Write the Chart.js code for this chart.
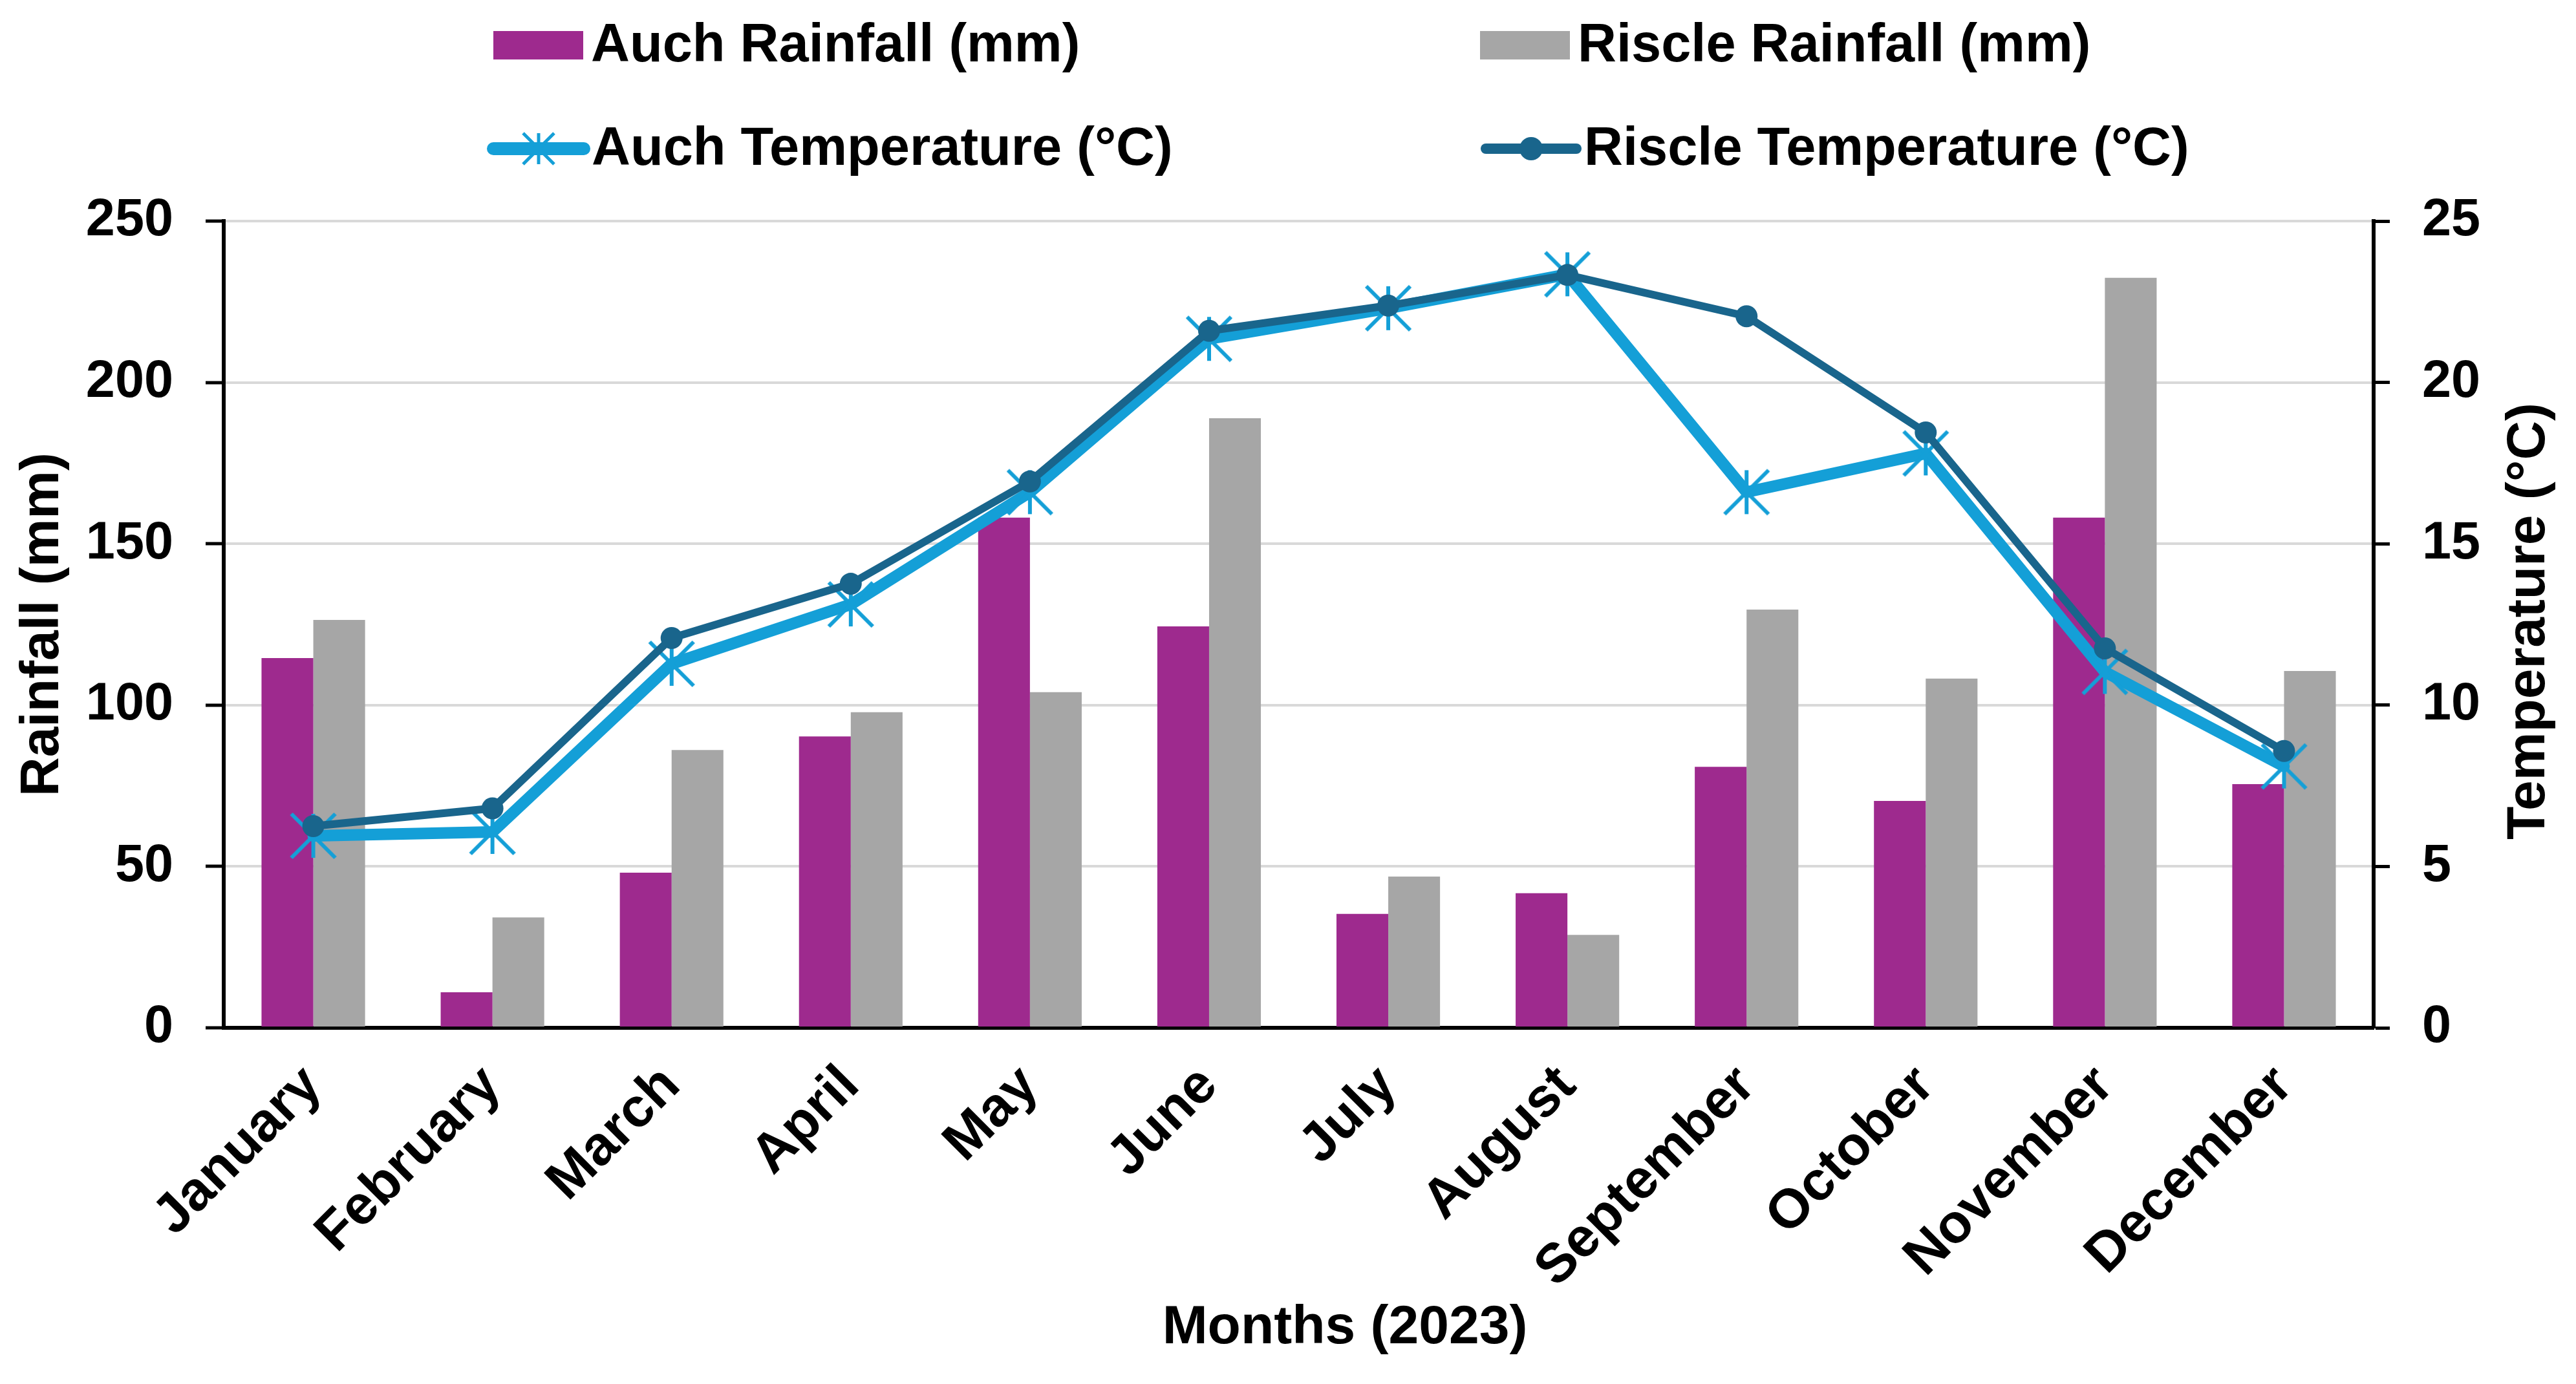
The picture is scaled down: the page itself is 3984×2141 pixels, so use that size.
<!DOCTYPE html>
<html>
<head>
<meta charset="utf-8">
<script src="https://cdn.jsdelivr.net/npm/chart.js@4.4.1/dist/chart.umd.min.js"></script>
<style>
html,body{margin:0;padding:0;background:#fff;}
#wrap{width:3984px;height:2141px;position:relative;}
</style>
</head>
<body>
<div id="wrap"><canvas id="c"></canvas></div>
<script>
// ---- data ----
const months = ['January','February','March','April','May','June','July','August','September','October','November','December'];
const auchRainfall = [114.6, 11.0, 48.1, 90.3, 158.1, 124.4, 35.3, 41.7, 80.9, 70.3, 158.1, 75.5];
const riscleRainfall = [126.4, 34.2, 86.1, 97.8, 104.0, 188.9, 46.9, 28.8, 129.6, 108.2, 232.4, 110.6];
const auchTemperature = [5.95, 6.07, 11.28, 13.12, 16.6, 21.35, 22.3, 23.35, 16.6, 17.8, 11.03, 8.1];
const riscleTemperature = [6.25, 6.8, 12.08, 13.76, 16.93, 21.6, 22.38, 23.33, 22.05, 18.45, 11.76, 8.58];
const seriesLabels = ['Auch Rainfall (mm)', 'Riscle Rainfall (mm)', 'Auch Temperature (°C)', 'Riscle Temperature (°C)'];
const axisTitles = {left: 'Rainfall (mm)', right: 'Temperature (°C)', bottom: 'Months (2023)'};

const FONT = '"Liberation Sans", Arial, sans-serif';
const C_PURPLE = '#9E2A8E';
const C_GRAY = '#A6A6A6';
const C_LBLUE = '#149FD7';
const C_DBLUE = '#19658C';

// asterisk (square star, no horizontal bar)
function drawStar(ctx, x, y, s, color, w) {
  ctx.save();
  ctx.strokeStyle = color; ctx.lineWidth = w; ctx.lineCap = 'butt';
  ctx.beginPath();
  ctx.moveTo(x, y - s); ctx.lineTo(x, y + s);
  ctx.moveTo(x - s, y - s); ctx.lineTo(x + s, y + s);
  ctx.moveTo(x - s, y + s); ctx.lineTo(x + s, y - s);
  ctx.stroke();
  ctx.restore();
}
function makeStarCanvas(s, color, w) {
  const cv = document.createElement('canvas');
  const size = Math.ceil(2 * s + w + 4);
  cv.width = size; cv.height = size;
  drawStar(cv.getContext('2d'), size / 2, size / 2, s, color, w);
  return cv;
}
const starMarker = makeStarCanvas(34, C_LBLUE, 6);

const textPlugin = {
  id: 'textPlugin',
  afterDraw(chart) {
    const ctx = chart.ctx;
    const ds = chart.data.datasets;
    ctx.save();
    ctx.font = 'bold 83px ' + FONT;
    ctx.fillStyle = '#000';
    ctx.textBaseline = 'middle';
    ctx.textAlign = 'left';
    // legend: 2 x 2 grid
    const cells = [
      {i: 0, x: 763, y: 70}, {i: 1, x: 2289, y: 70},
      {i: 2, x: 753, y: 230}, {i: 3, x: 2288, y: 230}
    ];
    cells.forEach(c => {
      const d = ds[c.i];
      if (d.type === 'line') {
        ctx.save();
        ctx.strokeStyle = d.borderColor;
        ctx.lineWidth = c.i === 2 ? 20 : 16;
        ctx.lineCap = 'round';
        ctx.beginPath();
        ctx.moveTo(c.x + 10, c.y); ctx.lineTo(c.x + 150, c.y);
        ctx.stroke();
        ctx.restore();
        if (c.i === 2) {
          drawStar(ctx, c.x + 80, c.y, 24, d.borderColor, 5);
        } else {
          ctx.beginPath();
          ctx.fillStyle = d.borderColor;
          ctx.arc(c.x + 80, c.y, 18, 0, Math.PI * 2);
          ctx.fill();
        }
        ctx.fillStyle = '#000';
        ctx.fillText(d.label, c.x + 162, c.y + 2);
      } else {
        ctx.fillStyle = d.backgroundColor;
        ctx.fillRect(c.x, c.y - 22, 139, 44);
        ctx.fillStyle = '#000';
        ctx.fillText(d.label, c.x + 151, c.y + 2);
      }
    });
    // axis titles
    ctx.textAlign = 'center';
    ctx.font = 'bold 84px ' + FONT;
    ctx.save();
    ctx.translate(67, 966);
    ctx.rotate(-Math.PI / 2);
    ctx.fillText(axisTitles.left, 0, 0);
    ctx.restore();
    ctx.save();
    ctx.translate(3912, 961);
    ctx.rotate(-Math.PI / 2);
    ctx.fillText(axisTitles.right, 0, 0);
    ctx.restore();
    ctx.fillText(axisTitles.bottom, 2080, 2055);
    ctx.restore();
  }
};

const tickFont = {family: FONT, size: 81, weight: 'bold'};

new Chart(document.getElementById('c'), {
  type: 'bar',
  data: {
    labels: months,
    datasets: [
      {type: 'bar', label: seriesLabels[0], data: auchRainfall, backgroundColor: C_PURPLE, yAxisID: 'y', order: 2,
       categoryPercentage: 0.578, barPercentage: 1.0},
      {type: 'bar', label: seriesLabels[1], data: riscleRainfall, backgroundColor: C_GRAY, yAxisID: 'y', order: 3,
       categoryPercentage: 0.578, barPercentage: 1.0},
      {type: 'line', label: seriesLabels[2], data: auchTemperature, yAxisID: 'y1', order: 1,
       borderColor: C_LBLUE, backgroundColor: C_LBLUE, borderWidth: 18, tension: 0,
       borderJoinStyle: 'round', borderCapStyle: 'round',
       pointStyle: starMarker, pointRadius: 36, pointHoverRadius: 36, pointBorderWidth: 0},
      {type: 'line', label: seriesLabels[3], data: riscleTemperature, yAxisID: 'y1', order: 0,
       borderColor: C_DBLUE, backgroundColor: C_DBLUE, borderWidth: 12, tension: 0,
       borderJoinStyle: 'round', borderCapStyle: 'round',
       pointStyle: 'circle', pointRadius: 17, pointHoverRadius: 17, pointBorderWidth: 0,
       pointBorderColor: C_DBLUE, pointBackgroundColor: C_DBLUE}
    ]
  },
  options: {
    responsive: true,
    maintainAspectRatio: false,
    animation: false,
    events: [],
    layout: {padding: {top: 342, left: 0, right: 0, bottom: 0}},
    plugins: {legend: {display: false}, tooltip: {enabled: false}, title: {display: false}},
    scales: {
      x: {
        offset: true,
        grid: {display: false, drawTicks: false},
        border: {display: true, color: '#000', width: 6},
        ticks: {color: '#000', font: {family: FONT, size: 85, weight: 'bold'}, maxRotation: 45, minRotation: 45, autoSkip: false, padding: 40},
        afterFit(s) { s.height = 551; }
      },
      y: {
        position: 'left', min: 0, max: 250,
        ticks: {stepSize: 50, color: '#000', font: tickFont, padding: 50},
        grid: {color: '#D9D9D9', lineWidth: 4, tickColor: '#000', tickWidth: 5, tickLength: 28},
        border: {display: true, color: '#000', width: 6},
        afterFit(s) { s.width = 346; }
      },
      y1: {
        position: 'right', min: 0, max: 25,
        ticks: {stepSize: 5, color: '#000', font: tickFont, padding: 50},
        grid: {drawOnChartArea: false, tickColor: '#000', tickWidth: 5, tickLength: 25},
        border: {display: true, color: '#000', width: 6},
        afterFit(s) { s.width = 313; }
      }
    }
  },
  plugins: [textPlugin]
});
</script>
</body>
</html>
